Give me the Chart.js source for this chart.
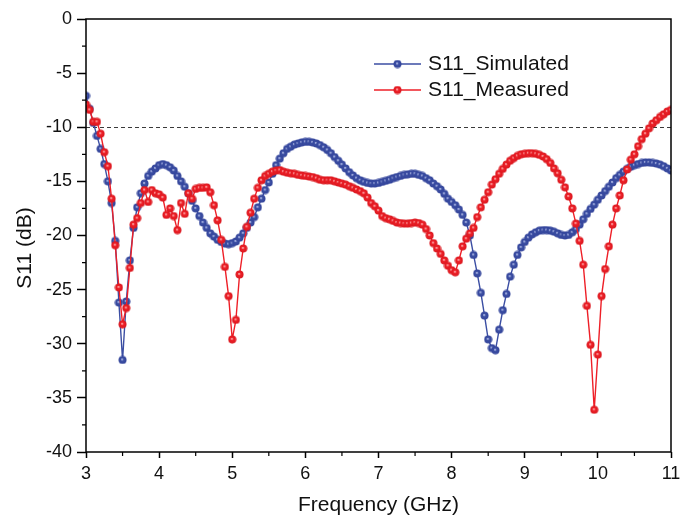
<!DOCTYPE html>
<html>
<head>
<meta charset="utf-8">
<script src="https://cdn.jsdelivr.net/npm/chart.js@4.4.1/dist/chart.umd.min.js"></script>
<style>
  html, body { margin: 0; padding: 0; background: #fff; }
  #wrap { width: 692px; height: 519px; }
</style>
</head>
<body>
<div id="wrap"><canvas id="s11Chart" width="692" height="519"></canvas></div>
<script>
// frequency sweep (GHz)
const freq = [
  3.00, 3.05, 3.10, 3.15, 3.20, 3.25, 3.30, 3.35, 3.40, 3.45,
  3.50, 3.55, 3.60, 3.65, 3.70, 3.75, 3.80, 3.85, 3.90, 3.95,
  4.00, 4.05, 4.10, 4.15, 4.20, 4.25, 4.30, 4.35, 4.40, 4.45,
  4.50, 4.55, 4.60, 4.65, 4.70, 4.75, 4.80, 4.85, 4.90, 4.95,
  5.00, 5.05, 5.10, 5.15, 5.20, 5.25, 5.30, 5.35, 5.40, 5.45,
  5.50, 5.55, 5.60, 5.65, 5.70, 5.75, 5.80, 5.85, 5.90, 5.95,
  6.00, 6.05, 6.10, 6.15, 6.20, 6.25, 6.30, 6.35, 6.40, 6.45,
  6.50, 6.55, 6.60, 6.65, 6.70, 6.75, 6.80, 6.85, 6.90, 6.95,
  7.00, 7.05, 7.10, 7.15, 7.20, 7.25, 7.30, 7.35, 7.40, 7.45,
  7.50, 7.55, 7.60, 7.65, 7.70, 7.75, 7.80, 7.85, 7.90, 7.95,
  8.00, 8.05, 8.10, 8.15, 8.20, 8.25, 8.30, 8.35, 8.40, 8.45,
  8.50, 8.55, 8.60, 8.65, 8.70, 8.75, 8.80, 8.85, 8.90, 8.95,
  9.00, 9.05, 9.10, 9.15, 9.20, 9.25, 9.30, 9.35, 9.40, 9.45,
  9.50, 9.55, 9.60, 9.65, 9.70, 9.75, 9.80, 9.85, 9.90, 9.95,
  10.00, 10.05, 10.10, 10.15, 10.20, 10.25, 10.30, 10.35, 10.40, 10.45,
  10.50, 10.55, 10.60, 10.65, 10.70, 10.75, 10.80, 10.85, 10.90, 10.95,
  11.00
];

// S11 (dB)
const s11Simulated = [
  -7.1, -8.3, -9.6, -10.8, -12.0, -13.4, -15.0, -17.0, -20.5, -26.2,
  -31.5, -26.1, -22.3, -19.3, -17.4, -16.1, -15.2, -14.5, -14.1, -13.8,
  -13.5, -13.4, -13.5, -13.7, -14.0, -14.5, -15.0, -15.5, -16.1, -16.8,
  -17.5, -18.2, -18.8, -19.3, -19.8, -20.1, -20.4, -20.6, -20.75, -20.8,
  -20.7, -20.55, -20.2, -19.8, -19.3, -18.8, -18.3, -17.4, -16.6, -15.8,
  -15.1, -14.3, -13.5, -12.9, -12.4, -12.0, -11.8, -11.6, -11.5, -11.4,
  -11.35, -11.35, -11.4, -11.5, -11.65, -11.85, -12.1, -12.4, -12.75, -13.1,
  -13.45, -13.8, -14.15, -14.45, -14.7, -14.9, -15.05, -15.15, -15.2, -15.2,
  -15.15, -15.05, -14.95, -14.85, -14.7, -14.6, -14.5, -14.4, -14.35, -14.3,
  -14.3, -14.4, -14.5, -14.7, -14.9, -15.2, -15.45, -15.75, -16.15, -16.6,
  -16.9, -17.2, -17.6, -18.1, -18.8, -20.0, -21.8, -23.5, -25.3, -27.4,
  -29.6, -30.4, -30.6, -28.7, -26.9, -25.4, -23.8, -22.7, -21.8, -21.1,
  -20.6, -20.2, -19.9, -19.7, -19.55, -19.5, -19.5, -19.55, -19.65, -19.8,
  -19.95, -20.0, -19.95, -19.7, -19.4, -19.0, -18.5, -18.0, -17.55, -17.15,
  -16.7, -16.3, -15.9, -15.5, -15.1, -14.7, -14.4, -14.1, -13.85, -13.65,
  -13.5, -13.4, -13.3, -13.25, -13.25, -13.3, -13.35, -13.45, -13.6, -13.8,
  -14.0
];

const s11Measured = [
  -7.9, -8.4, -9.5, -9.5, -10.6, -12.3, -13.6, -16.6, -20.9, -24.8,
  -28.2, -26.7, -23.0, -19.0, -18.4, -17.0, -15.8, -16.9, -15.8, -16.1,
  -16.2, -16.5, -18.1, -17.5, -18.2, -19.5, -17.0, -18.0, -16.1, -16.6,
  -15.7, -15.6, -15.6, -15.55, -16.0, -17.2, -18.6, -20.4, -22.9, -25.6,
  -29.6, -27.8, -23.6, -21.2, -19.2, -17.9, -16.6, -15.6, -14.9, -14.5,
  -14.3, -14.1, -14.0, -13.95, -14.1, -14.2, -14.25, -14.3, -14.4, -14.45,
  -14.5, -14.55, -14.6, -14.7, -14.85, -14.9, -14.9, -14.9, -15.0, -15.1,
  -15.2, -15.3, -15.45, -15.6, -15.75, -15.9, -16.1, -16.5, -17.0, -17.3,
  -17.7, -18.2, -18.4, -18.5, -18.65, -18.8, -18.85, -18.9, -18.9, -18.85,
  -18.8, -18.85, -19.0, -19.4, -20.0, -20.7, -21.2, -21.7, -22.3, -22.8,
  -23.2, -23.4, -22.3, -21.0, -20.3, -19.8, -19.3, -18.3, -17.4, -16.7,
  -16.0, -15.3, -14.8, -14.3, -13.85, -13.45, -13.1, -12.85, -12.65, -12.5,
  -12.45, -12.4, -12.4, -12.45, -12.55, -12.7, -12.95, -13.3, -13.8, -14.25,
  -14.85, -15.55, -16.4, -17.5, -18.9, -20.5, -22.7, -26.5, -30.1, -36.1,
  -31.0, -25.6, -23.1, -21.0, -19.0, -17.5, -16.3, -14.9, -13.9, -13.0,
  -12.5, -11.75, -11.1, -10.6, -10.1, -9.65, -9.35, -9.05, -8.8, -8.55,
  -8.4
];

const seriesNames = ["S11_Simulated", "S11_Measured"];
const xTicks = [3, 4, 5, 6, 7, 8, 9, 10, 11];
const yTicks = [0, -5, -10, -15, -20, -25, -30, -35, -40];
const refLevel = -10;

const FONT = "'Liberation Sans', Arial, Helvetica, sans-serif";
const BLUE = "#3b4ea3";
const RED = "#ee1f27";

// small shaded ball used as marker
function ball(base, light, dark) {
  const c = document.createElement("canvas");
  c.width = 9;
  c.height = 9;
  const ctx = c.getContext("2d");
  const g = ctx.createRadialGradient(4.0, 3.8, 0.2, 4.5, 4.5, 4.2);
  g.addColorStop(0, light);
  g.addColorStop(0.35, base);
  g.addColorStop(1, dark);
  ctx.fillStyle = g;
  ctx.beginPath();
  ctx.arc(4.5, 4.5, 4.0, 0, Math.PI * 2);
  ctx.fill();
  return c;
}
const blueBall = ball(BLUE, "#c4ccf2", "#33449a");
const redBall = ball(RED, "#ffc0c0", "#d8181f");

const decor = {
  id: "decor",
  beforeDatasetsDraw(chart) {
    const { ctx, chartArea: a, scales } = chart;
    const yy = Math.round(scales.y.getPixelForValue(refLevel)) + 0.5;
    ctx.save();
    ctx.strokeStyle = "#3a3a3a";
    ctx.lineWidth = 1;
    ctx.setLineDash([4, 3]);
    ctx.beginPath();
    ctx.moveTo(a.left, yy);
    ctx.lineTo(a.right, yy);
    ctx.stroke();
    ctx.restore();
  },
  afterDraw(chart) {
    const { ctx, chartArea: a, scales } = chart;
    ctx.save();
    ctx.strokeStyle = "#000";
    ctx.lineWidth = 1.5;
    ctx.strokeRect(a.left, a.top, a.right - a.left, a.bottom - a.top);

    // minor ticks
    ctx.lineWidth = 1.2;
    ctx.beginPath();
    for (let i = 0; i < xTicks.length - 1; i++) {
      const px = scales.x.getPixelForValue((xTicks[i] + xTicks[i + 1]) / 2);
      ctx.moveTo(px, a.bottom);
      ctx.lineTo(px, a.bottom + 4);
    }
    for (let i = 0; i < yTicks.length - 1; i++) {
      const py = scales.y.getPixelForValue((yTicks[i] + yTicks[i + 1]) / 2);
      ctx.moveTo(a.left - 4, py);
      ctx.lineTo(a.left, py);
    }
    ctx.stroke();

    // y title
    ctx.fillStyle = "#111";
    ctx.font = "21px " + FONT;
    ctx.textAlign = "center";
    ctx.textBaseline = "middle";
    ctx.translate(25, 248);
    ctx.rotate(-Math.PI / 2);
    ctx.fillText("S11 (dB)", 0, 0);
    ctx.setTransform(1, 0, 0, 1, 0, 0);

    // legend
    const rows = [
      { name: seriesNames[0], color: BLUE, img: blueBall, y: 64 },
      { name: seriesNames[1], color: RED, img: redBall, y: 90 }
    ];
    ctx.textAlign = "left";
    rows.forEach((r) => {
      ctx.strokeStyle = r.color;
      ctx.lineWidth = 1.5;
      ctx.beginPath();
      ctx.moveTo(374, r.y);
      ctx.lineTo(421, r.y);
      ctx.stroke();
      ctx.drawImage(r.img, 397.5 - 4.5, r.y - 4.5);
      ctx.fillStyle = "#111";
      ctx.fillText(r.name, 428, r.y);
    });
    ctx.restore();
  }
};

const canvas = document.getElementById("s11Chart");
new Chart(canvas, {
  type: "line",
  data: {
    datasets: [
      {
        label: seriesNames[0],
        data: freq.map((f, i) => ({ x: f, y: s11Simulated[i] })),
        borderColor: BLUE,
        borderWidth: 1.4,
        pointStyle: blueBall,
        pointRadius: 4,
        tension: 0,
        order: 1
      },
      {
        label: seriesNames[1],
        data: freq.map((f, i) => ({ x: f, y: s11Measured[i] })),
        borderColor: RED,
        borderWidth: 1.4,
        pointStyle: redBall,
        pointRadius: 4,
        tension: 0,
        order: 0
      }
    ]
  },
  options: {
    responsive: false,
    animation: false,
    layout: { padding: { top: 19, right: 21, left: 0, bottom: 0 } },
    plugins: {
      legend: { display: false },
      tooltip: { enabled: false }
    },
    scales: {
      x: {
        type: "linear",
        min: xTicks[0],
        max: xTicks[xTicks.length - 1],
        afterBuildTicks: (s) => { s.ticks = xTicks.map((v) => ({ value: v })); },
        afterFit: (s) => { s.height = 67; },
        grid: { drawOnChartArea: false, tickLength: 6, tickWidth: 1.5, tickColor: "#000" },
        border: { display: false },
        ticks: { color: "#111", font: { size: 18, family: FONT }, padding: 5, maxRotation: 0 },
        title: {
          display: true,
          text: "Frequency (GHz)",
          color: "#111",
          font: { size: 21, family: FONT },
          padding: { top: 0, bottom: 1 }
        }
      },
      y: {
        min: yTicks[yTicks.length - 1],
        max: yTicks[0],
        afterBuildTicks: (s) => { s.ticks = yTicks.map((v) => ({ value: v })); },
        afterFit: (s) => { s.width = 86; },
        grid: { drawOnChartArea: false, tickLength: 9, tickWidth: 1.5, tickColor: "#000" },
        border: { display: false },
        ticks: { color: "#111", font: { size: 18, family: FONT }, padding: 5 }
      }
    }
  },
  plugins: [decor]
});
</script>
</body>
</html>
